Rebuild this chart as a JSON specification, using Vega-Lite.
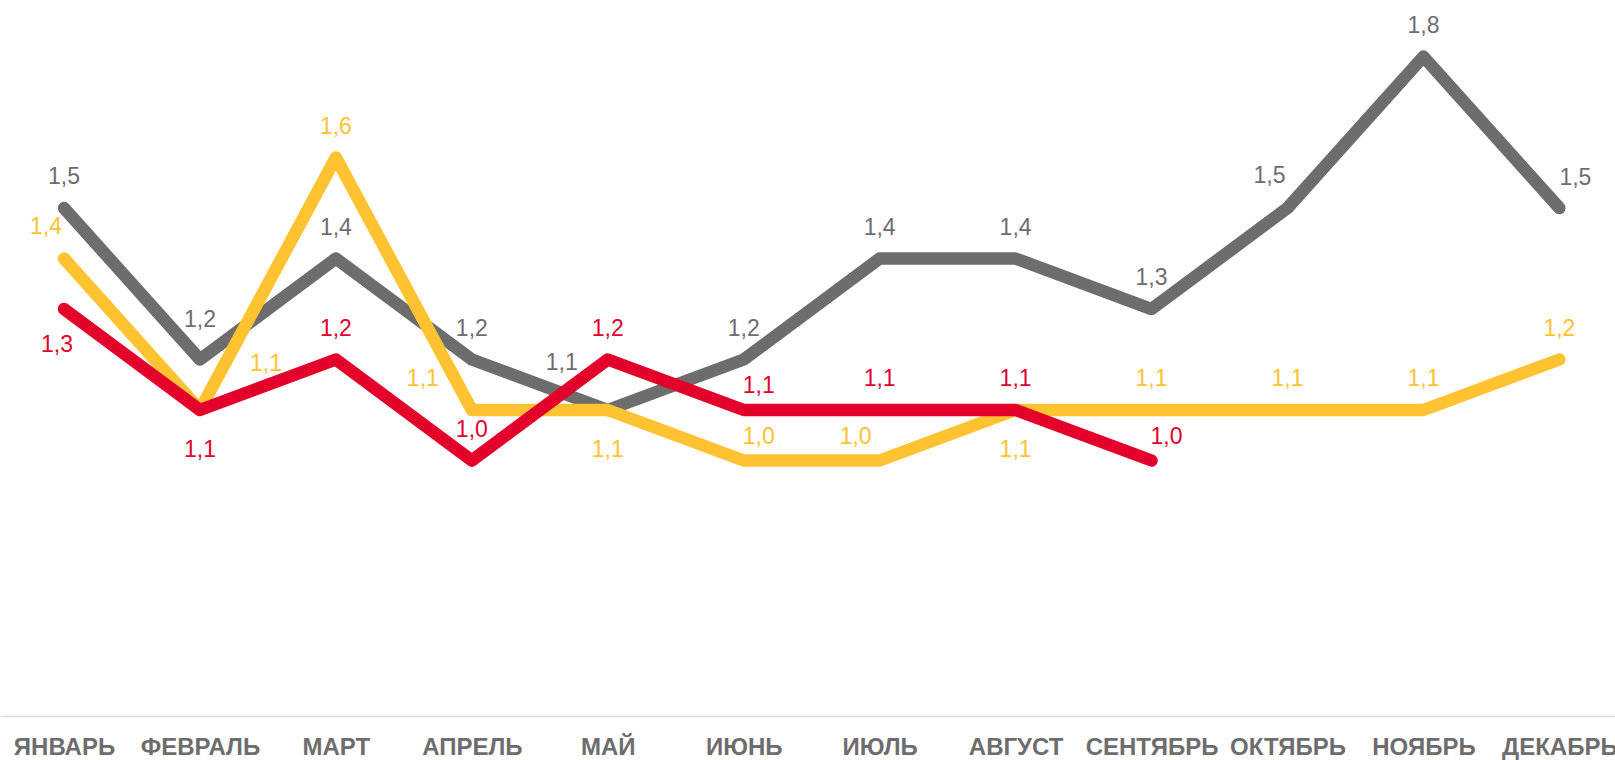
{
  "$schema": "https://vega.github.io/schema/vega-lite/v6.json",
  "width": 1615,
  "height": 716,
  "autosize": "none",
  "padding": {"left": 0, "top": 0, "right": 0, "bottom": 44},
  "background": "white",
  "config": {
    "view": {"stroke": null},
    "locale": {"number": {"decimal": ",", "thousands": " ", "grouping": [3], "currency": ["", " ₽"]}},
    "text": {"font": "Liberation Sans", "fontSize": 23, "baseline": "middle", "align": "center"}
  },
  "data": {
    "values": [
      {"s": "Ряд 1", "m": "ЯНВАРЬ", "v": 1.5},
      {"s": "Ряд 1", "m": "ФЕВРАЛЬ", "v": 1.2},
      {"s": "Ряд 1", "m": "МАРТ", "v": 1.4},
      {"s": "Ряд 1", "m": "АПРЕЛЬ", "v": 1.2},
      {"s": "Ряд 1", "m": "МАЙ", "v": 1.1},
      {"s": "Ряд 1", "m": "ИЮНЬ", "v": 1.2},
      {"s": "Ряд 1", "m": "ИЮЛЬ", "v": 1.4},
      {"s": "Ряд 1", "m": "АВГУСТ", "v": 1.4},
      {"s": "Ряд 1", "m": "СЕНТЯБРЬ", "v": 1.3},
      {"s": "Ряд 1", "m": "ОКТЯБРЬ", "v": 1.5},
      {"s": "Ряд 1", "m": "НОЯБРЬ", "v": 1.8},
      {"s": "Ряд 1", "m": "ДЕКАБРЬ", "v": 1.5},
      {"s": "Ряд 2", "m": "ЯНВАРЬ", "v": 1.4},
      {"s": "Ряд 2", "m": "ФЕВРАЛЬ", "v": 1.1},
      {"s": "Ряд 2", "m": "МАРТ", "v": 1.6},
      {"s": "Ряд 2", "m": "АПРЕЛЬ", "v": 1.1},
      {"s": "Ряд 2", "m": "МАЙ", "v": 1.1},
      {"s": "Ряд 2", "m": "ИЮНЬ", "v": 1.0},
      {"s": "Ряд 2", "m": "ИЮЛЬ", "v": 1.0},
      {"s": "Ряд 2", "m": "АВГУСТ", "v": 1.1},
      {"s": "Ряд 2", "m": "СЕНТЯБРЬ", "v": 1.1},
      {"s": "Ряд 2", "m": "ОКТЯБРЬ", "v": 1.1},
      {"s": "Ряд 2", "m": "НОЯБРЬ", "v": 1.1},
      {"s": "Ряд 2", "m": "ДЕКАБРЬ", "v": 1.2},
      {"s": "Ряд 3", "m": "ЯНВАРЬ", "v": 1.3},
      {"s": "Ряд 3", "m": "ФЕВРАЛЬ", "v": 1.1},
      {"s": "Ряд 3", "m": "МАРТ", "v": 1.2},
      {"s": "Ряд 3", "m": "АПРЕЛЬ", "v": 1.0},
      {"s": "Ряд 3", "m": "МАЙ", "v": 1.2},
      {"s": "Ряд 3", "m": "ИЮНЬ", "v": 1.1},
      {"s": "Ряд 3", "m": "ИЮЛЬ", "v": 1.1},
      {"s": "Ряд 3", "m": "АВГУСТ", "v": 1.1},
      {"s": "Ряд 3", "m": "СЕНТЯБРЬ", "v": 1.0}
    ]
  },
  "encoding": {
    "x": {
      "field": "m",
      "type": "ordinal",
      "sort": ["ЯНВАРЬ", "ФЕВРАЛЬ", "МАРТ", "АПРЕЛЬ", "МАЙ", "ИЮНЬ", "ИЮЛЬ", "АВГУСТ", "СЕНТЯБРЬ", "ОКТЯБРЬ", "НОЯБРЬ", "ДЕКАБРЬ"],
      "scale": {"type": "point", "padding": 0.44, "align": 0.535},
      "axis": {
        "title": null,
        "ticks": false,
        "tickSize": 0,
        "grid": false,
        "labelAngle": 0,
        "labelPadding": 19,
        "labelFont": "Liberation Sans",
        "labelFontWeight": "bold",
        "labelFontSize": 24,
        "labelColor": "#6d6d6d",
        "labelOverlap": false,
        "labelBound": false,
        "labelFlush": false,
        "domainColor": "#d9d9d9",
        "domainWidth": 1.5
      }
    },
    "y": {
      "field": "v",
      "type": "quantitative",
      "scale": {"domain": [0.494, 1.912], "zero": false, "nice": false},
      "axis": null
    },
    "color": {
      "field": "s",
      "type": "nominal",
      "scale": {"domain": ["Ряд 1", "Ряд 2", "Ряд 3"], "range": ["#6d6d6d", "#ffc230", "#e3002b"]},
      "legend": null
    }
  },
  "layer": [
    {"transform": [{"filter": "datum.s == 'Ряд 1'"}], "mark": {"type": "line", "strokeWidth": 12.5, "strokeCap": "round", "strokeJoin": "round"}},
    {"transform": [{"filter": "datum.s == 'Ряд 2'"}], "mark": {"type": "line", "strokeWidth": 12.5, "strokeCap": "round", "strokeJoin": "round"}},
    {"transform": [{"filter": "datum.s == 'Ряд 3'"}], "mark": {"type": "line", "strokeWidth": 12.5, "strokeCap": "round", "strokeJoin": "round"}},
    {
      "transform": [{"filter": "indexof(['Ряд 2|МАЙ','Ряд 2|АВГУСТ','Ряд 3|ФЕВРАЛЬ','Ряд 3|ЯНВАРЬ','Ряд 2|ИЮНЬ','Ряд 3|ИЮНЬ','Ряд 3|СЕНТЯБРЬ','Ряд 2|ЯНВАРЬ','Ряд 1|ОКТЯБРЬ','Ряд 2|ИЮЛЬ','Ряд 2|АПРЕЛЬ','Ряд 1|МАЙ','Ряд 2|ФЕВРАЛЬ','Ряд 1|ДЕКАБРЬ','Ряд 1|ФЕВРАЛЬ'], datum.s + '|' + datum.m) < 0"}],
      "mark": {"type": "text", "dy": -31},
      "encoding": {"text": {"field": "v", "type": "quantitative", "format": ".1f"}}
    },
    {
      "transform": [{"filter": "indexof(['Ряд 2|МАЙ','Ряд 2|АВГУСТ','Ряд 3|ФЕВРАЛЬ'], datum.s + '|' + datum.m) >= 0"}],
      "mark": {"type": "text", "dy": 40},
      "encoding": {"text": {"field": "v", "type": "quantitative", "format": ".1f"}}
    },
    {
      "transform": [{"filter": "datum.s + '|' + datum.m == 'Ряд 3|ЯНВАРЬ'"}],
      "mark": {"type": "text", "dx": -7, "dy": 36},
      "encoding": {"text": {"field": "v", "type": "quantitative", "format": ".1f"}}
    },
    {
      "transform": [{"filter": "indexof(['Ряд 2|ИЮНЬ','Ряд 3|ИЮНЬ','Ряд 3|СЕНТЯБРЬ'], datum.s + '|' + datum.m) >= 0"}],
      "mark": {"type": "text", "dx": 15, "dy": -24},
      "encoding": {"text": {"field": "v", "type": "quantitative", "format": ".1f"}}
    },
    {
      "transform": [{"filter": "indexof(['Ряд 2|ЯНВАРЬ','Ряд 1|ОКТЯБРЬ'], datum.s + '|' + datum.m) >= 0"}],
      "mark": {"type": "text", "dx": -18, "dy": -32},
      "encoding": {"text": {"field": "v", "type": "quantitative", "format": ".1f"}}
    },
    {
      "transform": [{"filter": "datum.s + '|' + datum.m == 'Ряд 2|ИЮЛЬ'"}],
      "mark": {"type": "text", "dx": -24, "dy": -24},
      "encoding": {"text": {"field": "v", "type": "quantitative", "format": ".1f"}}
    },
    {
      "transform": [{"filter": "datum.s + '|' + datum.m == 'Ряд 2|АПРЕЛЬ'"}],
      "mark": {"type": "text", "dx": -49, "dy": -31},
      "encoding": {"text": {"field": "v", "type": "quantitative", "format": ".1f"}}
    },
    {
      "transform": [{"filter": "datum.s + '|' + datum.m == 'Ряд 1|МАЙ'"}],
      "mark": {"type": "text", "dx": -46, "dy": -47},
      "encoding": {"text": {"field": "v", "type": "quantitative", "format": ".1f"}}
    },
    {
      "transform": [{"filter": "datum.s + '|' + datum.m == 'Ряд 2|ФЕВРАЛЬ'"}],
      "mark": {"type": "text", "dx": 66, "dy": -46},
      "encoding": {"text": {"field": "v", "type": "quantitative", "format": ".1f"}}
    },
    {
      "transform": [{"filter": "datum.s + '|' + datum.m == 'Ряд 1|ДЕКАБРЬ'"}],
      "mark": {"type": "text", "dx": 16, "dy": -30},
      "encoding": {"text": {"field": "v", "type": "quantitative", "format": ".1f"}}
    },
    {
      "transform": [{"filter": "datum.s + '|' + datum.m == 'Ряд 1|ФЕВРАЛЬ'"}],
      "mark": {"type": "text", "dy": -40},
      "encoding": {"text": {"field": "v", "type": "quantitative", "format": ".1f"}}
    }
  ]
}
